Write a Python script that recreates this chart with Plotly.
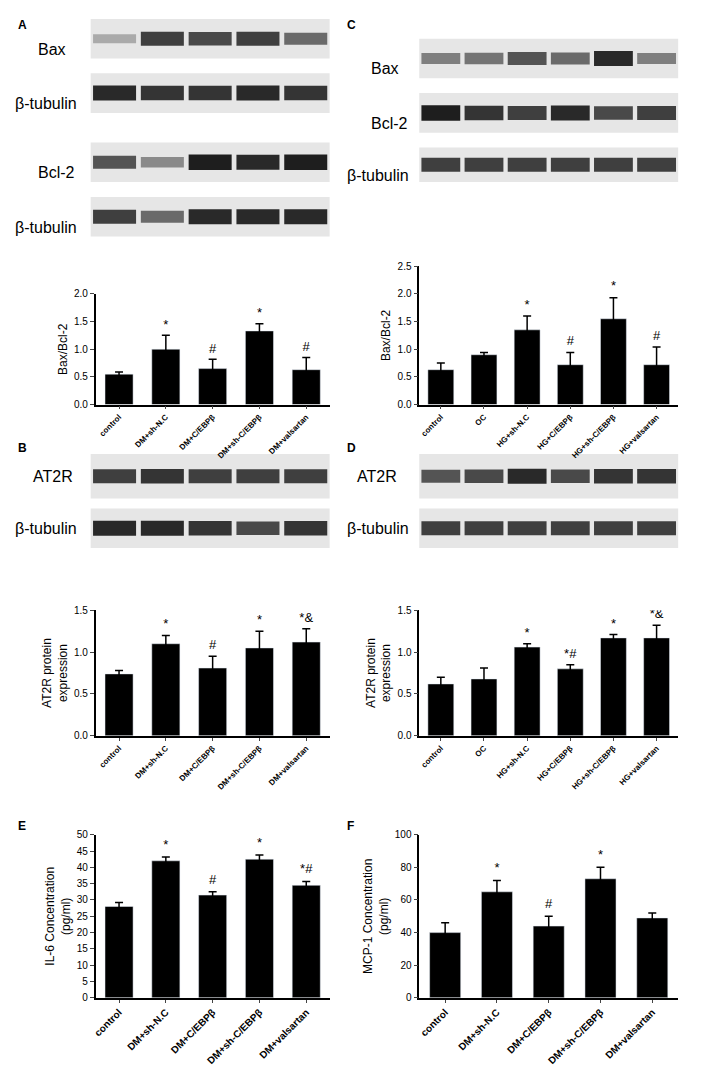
import plotly.graph_objects as go

W, H = 709, 1073

# ---- data ----
groups_dm = ["control", "DM+sh-N.C", "DM+C/EBPβ", "DM+sh-C/EBPβ", "DM+valsartan"]
groups_hg = ["control", "OC", "HG+sh-N.C", "HG+C/EBPβ", "HG+sh-C/EBPβ", "HG+valsartan"]

a_bax_bcl2 = [0.55, 1.0, 0.65, 1.33, 0.63]
a_err = [0.04, 0.25, 0.17, 0.13, 0.22]
a_marks = ["", "*", "#", "*", "#"]

c_bax_bcl2 = [0.63, 0.9, 1.35, 0.72, 1.55, 0.72]
c_err = [0.12, 0.04, 0.25, 0.22, 0.38, 0.32]
c_marks = ["", "", "*", "#", "*", "#"]

b_at2r = [0.74, 1.1, 0.81, 1.05, 1.12]
b_err = [0.04, 0.1, 0.14, 0.2, 0.16]
b_marks = ["", "*", "#", "*", "*&"]

d_at2r = [0.62, 0.68, 1.06, 0.8, 1.17, 1.17]
d_err = [0.08, 0.13, 0.04, 0.05, 0.04, 0.15]
d_marks = ["", "", "*", "*#", "*", "*&"]

e_il6 = [28, 42, 31.5, 42.5, 34.5]
e_err = [1.2, 1.2, 1.0, 1.3, 1.2]
e_marks = ["", "*", "#", "*", "*#"]

f_mcp1 = [40, 65, 44, 73, 49]
f_err = [6, 7, 6, 7, 3]
f_marks = ["", "*", "#", "*", ""]

# blot band darkness per lane (0-1)
blot_a_bax = [0.3, 0.8, 0.75, 0.8, 0.6]
blot_a_tub1 = [0.9, 0.85, 0.85, 0.9, 0.85]
blot_a_bcl2 = [0.7, 0.45, 0.95, 0.9, 0.95]
blot_a_tub2 = [0.8, 0.6, 0.9, 0.9, 0.9]
blot_c_bax = [0.5, 0.55, 0.7, 0.6, 0.9, 0.5]
blot_c_bcl2 = [0.95, 0.85, 0.8, 0.9, 0.75, 0.8]
blot_c_tub = [0.8, 0.8, 0.8, 0.8, 0.8, 0.8]
blot_b_at2r = [0.8, 0.85, 0.8, 0.8, 0.8]
blot_b_tub = [0.9, 0.9, 0.85, 0.75, 0.85]
blot_d_at2r = [0.7, 0.75, 0.9, 0.75, 0.85, 0.85]
blot_d_tub = [0.8, 0.8, 0.8, 0.8, 0.8, 0.8]

fig = go.Figure()
layout = {}
n_ax = [0]


def px_x(a, b):
    return [a / W, b / W]


def px_y(top, bottom):
    return [1 - bottom / H, 1 - top / H]


def new_axes(xr, yr):
    n_ax[0] += 1
    n = n_ax[0]
    sx = "" if n == 1 else str(n)
    layout["xaxis" + sx] = dict(domain=px_x(*xr), anchor="y" + sx)
    layout["yaxis" + sx] = dict(domain=px_y(*yr), anchor="x" + sx)
    return sx


def blot(label, bands, xr, yr, label_x):
    sx = new_axes(xr, yr)
    nl = len(bands)
    layout["xaxis" + sx].update(range=[-0.5, nl - 0.5], visible=False)
    layout["yaxis" + sx].update(range=[-1, 1], visible=False)
    fig.add_shape(type="rect", xref="x" + sx + " domain", yref="y" + sx + " domain",
                  x0=0, x1=1, y0=0, y1=1, fillcolor="#e6e6e6", line_width=0, layer="below")
    for i, v in enumerate(bands):
        g = int(235 - 215 * v)
        fig.add_trace(go.Scatter(x=[i - 0.45, i + 0.45], y=[0, 0], mode="lines",
                                 line=dict(color=f"rgb({g},{g},{g})", width=6 + 10 * v),
                                 xaxis="x" + sx, yaxis="y" + sx, hoverinfo="skip",
                                 showlegend=False))
    fig.add_annotation(text=label, x=label_x / W, y=1 - (yr[0] + yr[1]) / 2 / H,
                       xref="paper", yref="paper", xanchor="left", showarrow=False,
                       font=dict(size=16, color="black"))


def bars(cats, vals, errs, marks, xr, yr, ymax, dtick, ytitle, tick_size=8, fmt=".1f"):
    sx = new_axes(xr, yr)
    fig.add_trace(go.Bar(x=cats, y=vals, marker_color="black", width=0.6,
                         error_y=dict(type="data", array=errs, color="black",
                                      thickness=1.5, width=4),
                         xaxis="x" + sx, yaxis="y" + sx, showlegend=False))
    fig.add_trace(go.Scatter(x=cats, y=[v + e + ymax * 0.03 for v, e in zip(vals, errs)],
                             text=marks, mode="text", textposition="top center",
                             textfont=dict(size=13, color="black"),
                             xaxis="x" + sx, yaxis="y" + sx, showlegend=False))
    layout["xaxis" + sx].update(tickangle=-45, showline=True, linecolor="black",
                                linewidth=1.5, ticks="outside", ticklen=3,
                                tickvals=cats, ticktext=["<b>" + c + "</b>" for c in cats],
                                tickfont=dict(size=tick_size, color="black"))
    layout["yaxis" + sx].update(range=[0, ymax], dtick=dtick, tickformat=fmt,
                                showline=True, linecolor="black", linewidth=1.5,
                                ticks="outside", ticklen=4, showgrid=False,
                                zeroline=False, tickfont=dict(size=10, color="black"),
                                title=dict(text=ytitle, font=dict(size=12, color="black"),
                                           standoff=4))


# panel A
blot("Bax", blot_a_bax, (80, 320), (5, 45), 25)
blot("β-tubulin", blot_a_tub1, (80, 320), (60, 100), 2)
blot("Bcl-2", blot_a_bcl2, (80, 320), (130, 170), 25)
blot("β-tubulin", blot_a_tub2, (80, 320), (185, 225), 2)
bars(groups_dm, a_bax_bcl2, a_err, a_marks, (85, 320), (283, 395), 2.0, 0.5, "Bax/Bcl-2")
# panel C
blot("Bax", blot_c_bax, (410, 670), (25, 65), 360)
blot("Bcl-2", blot_c_bcl2, (410, 670), (80, 120), 360)
blot("β-tubulin", blot_c_tub, (410, 670), (135, 170), 335)
bars(groups_hg, c_bax_bcl2, c_err, c_marks, (410, 670), (255, 395), 2.5, 0.5, "Bax/Bcl-2")
# panel B
blot("AT2R", blot_b_at2r, (80, 320), (445, 490), 20)
blot("β-tubulin", blot_b_tub, (80, 320), (500, 540), 2)
bars(groups_dm, b_at2r, b_err, b_marks, (85, 320), (603, 730), 1.5, 0.5,
     "AT2R protein<br>expression")
# panel D
blot("AT2R", blot_d_at2r, (410, 670), (445, 490), 345)
blot("β-tubulin", blot_d_tub, (410, 670), (500, 540), 335)
bars(groups_hg, d_at2r, d_err, d_marks, (410, 670), (603, 730), 1.5, 0.5,
     "AT2R protein<br>expression")
# panel E / F
bars(groups_dm, e_il6, e_err, e_marks, (85, 320), (830, 995), 50, 5,
     "IL-6 Concentration<br>(pg/ml)", tick_size=10, fmt="d")
bars(groups_dm, f_mcp1, f_err, f_marks, (410, 670), (830, 995), 100, 20,
     "MCP-1 Concentration<br>(pg/ml)", tick_size=10, fmt="d")

for letter, x, y in [("A", 5, 2), ("C", 335, 2), ("B", 5, 430), ("D", 335, 430),
                     ("E", 5, 812), ("F", 335, 812)]:
    fig.add_annotation(text="<b>" + letter + "</b>", x=x / W, y=1 - y / H, xref="paper",
                       yref="paper", xanchor="left", yanchor="top", showarrow=False,
                       font=dict(size=12, color="black"))

layout.update(width=W, height=H, margin=dict(l=0, r=0, t=0, b=0),
              plot_bgcolor="white", paper_bgcolor="white",
              font=dict(family="Arial, Liberation Sans", color="black"))
fig.update_layout(**layout)
fig.write_html("out.html")
